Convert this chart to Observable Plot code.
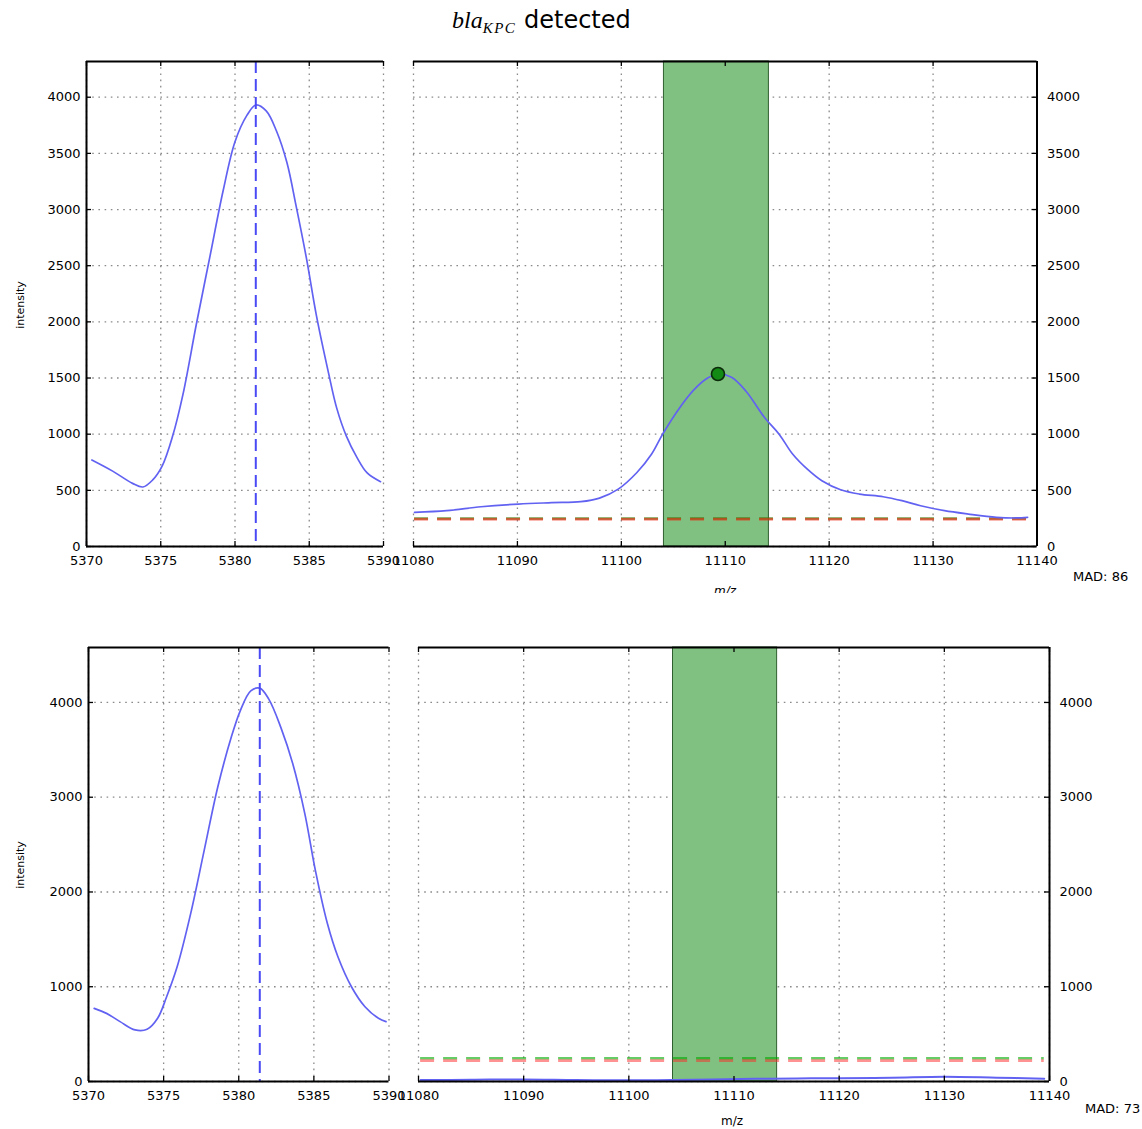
<!DOCTYPE html>
<html><head><meta charset="utf-8">
<script src="https://cdn.jsdelivr.net/npm/d3@7"></script>
<script src="https://cdn.jsdelivr.net/npm/@observablehq/plot@0.6"></script>
<style>
body{margin:0;background:#fff;}
#root{position:relative;width:1142px;height:1129px;overflow:hidden;font-family:"DejaVu Sans",sans-serif;background:#fff;}
.panel{position:absolute;}
#topfig{position:absolute;left:0;top:0;width:1142px;height:593px;overflow:hidden;}
#botfig{position:absolute;left:0;top:593px;width:1142px;height:536px;overflow:hidden;}
</style></head><body><div id="root"><div id="topfig"></div><div id="botfig"></div></div>
<script>
// ---------- data ----------
const topLeftMz = [5370.36,5371.76,5373.1,5373.8,5374.46,5375.1,5375.8,5376.5,5377.4,5378.3,5379.2,5380.0,5380.8,5381.4,5382.1,5382.8,5383.5,5384.1,5384.8,5385.5,5386.3,5386.85,5387.5,5388.2,5388.9,5389.8];
const topLeftInt = [770,671,562,530,593,718,983,1357,1981,2574,3167,3604,3838,3931,3878,3697,3416,3042,2574,2044,1544,1232,983,796,655,577];
const topLeftPeak = 5381.4;

const topRightMz = [11080.1,11083.2,11086.5,11090.1,11093.3,11096.1,11097.9,11099.7,11101.5,11102.9,11104.0,11105.6,11107.0,11108.3,11109.3,11110.6,11112.0,11113.8,11115.2,11116.5,11117.9,11119.3,11121.1,11122.9,11125.2,11127.0,11128.8,11131.1,11133.4,11136.1,11137.9,11139.1];
const topRightInt = [304,319,354,378,390,399,431,511,659,821,1004,1234,1397,1500,1536,1506,1382,1146,998,821,688,585,505,467,443,408,363,319,289,260,254,260];
const topPeakMz = 11109.3, topPeakInt = 1536;
const topGreenLevel = 249, topRedLevel = 244;
const topMAD = 86;

const botLeftMz = [5370.38,5371.2,5372.1,5373.1,5373.9,5374.6,5375.2,5375.9,5376.8,5377.7,5378.6,5379.5,5380.1,5380.8,5381.4,5382.0,5382.8,5383.6,5384.4,5385.1,5385.9,5386.6,5387.5,5388.4,5389.3,5389.8];
const botLeftInt = [772,719,632,544,551,667,895,1211,1772,2439,3105,3632,3912,4123,4151,4035,3737,3351,2825,2228,1667,1316,1000,789,667,632];
const botLeftPeak = 5381.4;

const botRightMz = [11080.2,11085,11090,11095,11100,11104,11108,11112,11116,11120,11125,11130,11135,11139.5];
const botRightInt = [15,18,22,15,12,15,22,28,32,35,40,50,40,30];
const botGreenLevel = 245, botRedLevel = 220;
const botMAD = 73;

const bandStart = 11104.1, bandEnd = 11114.2;
const botBandStart = 11104.2, botBandEnd = 11114.1;

const leftXTicks = [5370,5375,5380,5385,5390];
const rightXTicks = [11080,11090,11100,11110,11120,11130,11140];
const topYTicks = [0,500,1000,1500,2000,2500,3000,3500,4000];
const botYTicks = [0,1000,2000,3000,4000];

// ---------- styling ----------
const CURVE = "#6262f2", VDASH = "#4a4af5";
const FONT = "DejaVu Sans";

function panel(host, {side, xDomain, yDomain, xTicks, yTicks, fx0, fx1, fy0, fy1, extra, offsetTop}) {
  const mL = side === "left" ? 60 : 14, mR = side === "left" ? 14 : 60, mT = 10, mB = 34;
  const W = fx1 - fx0, H = fy1 - fy0;
  const marks = [
    Plot.ruleX(xTicks, {stroke: "#8a8a8a", strokeDasharray: "1.6,4.6", strokeWidth: 1.3}),
    Plot.ruleY(yTicks, {stroke: "#8a8a8a", strokeDasharray: "1.6,4.6", strokeWidth: 1.3}),
    ...extra,
    Plot.ruleY([yDomain[0]], {stroke: "black", strokeWidth: 2}),
    Plot.ruleY([yDomain[1]], {stroke: "black", strokeWidth: 2}),
    Plot.ruleX([side === "left" ? xDomain[0] : xDomain[1]], {stroke: "black", strokeWidth: 2}),
    Plot.ruleX(xTicks, {stroke: "black", strokeWidth: 1.3, insetTop: H - 5}),
    Plot.ruleX(xTicks, {stroke: "black", strokeWidth: 1.3, insetBottom: H - 5}),
    side === "left"
      ? Plot.ruleY(yTicks, {stroke: "black", strokeWidth: 1.3, insetRight: W - 5})
      : Plot.ruleY(yTicks, {stroke: "black", strokeWidth: 1.3, insetLeft: W - 5}),
    Plot.axisX({ticks: xTicks, tickSize: 0, tickPadding: 9, tickFormat: d => String(d), label: null, fontSize: 13}),
    Plot.axisY({anchor: side, ticks: yTicks, tickSize: 0, tickPadding: side === "left" ? 6 : 10, tickFormat: d => String(d), label: null, fontSize: 13})
  ];
  const svg = Plot.plot({
    width: W + mL + mR, height: H + mT + mB,
    marginLeft: mL, marginRight: mR, marginTop: mT, marginBottom: mB,
    x: {domain: xDomain, label: null},
    y: {domain: yDomain, label: null},
    style: {fontFamily: FONT, fontSize: "13px", color: "black", background: "transparent", overflow: "visible"},
    marks
  });
  svg.classList.add("panel");
  svg.style.left = (fx0 - mL) + "px";
  svg.style.top = (fy0 - mT - offsetTop) + "px";
  host.appendChild(svg);
}

const topHost = document.getElementById("topfig");
const botHost = document.getElementById("botfig");

const tl = topLeftMz.map((x, i) => ({x, y: topLeftInt[i]}));
const tr = topRightMz.map((x, i) => ({x, y: topRightInt[i]}));
const bl = botLeftMz.map((x, i) => ({x, y: botLeftInt[i]}));
const br = botRightMz.map((x, i) => ({x, y: botRightInt[i]}));

panel(topHost, {side: "left", xDomain: [5370, 5390], yDomain: [0, 4318], xTicks: leftXTicks, yTicks: topYTicks,
  fx0: 86, fx1: 383, fy0: 61, fy1: 546, offsetTop: 0,
  extra: [
    Plot.line(tl, {x: "x", y: "y", stroke: CURVE, strokeWidth: 1.7, curve: "catmull-rom"}),
    Plot.ruleX([topLeftPeak], {stroke: VDASH, strokeWidth: 2, strokeDasharray: "12,6"})
  ]});
panel(topHost, {side: "right", xDomain: [11080, 11140], yDomain: [0, 4318], xTicks: rightXTicks, yTicks: topYTicks,
  fx0: 413, fx1: 1036.5, fy0: 61, fy1: 546, offsetTop: 0,
  extra: [
    Plot.rect([{a: bandStart, b: bandEnd}], {x1: "a", x2: "b", fill: "#80c080", stroke: "#2f5f2f", strokeWidth: 1}),
    Plot.ruleY([topGreenLevel], {x1: topRightMz[0], x2: topRightMz[topRightMz.length - 1], stroke: "rgb(0,150,0)", strokeOpacity: 0.6, strokeWidth: 2.6, strokeDasharray: "14,9"}),
    Plot.ruleY([topRedLevel], {x1: topRightMz[0], x2: topRightMz[topRightMz.length - 1], stroke: "rgb(240,40,20)", strokeOpacity: 0.65, strokeWidth: 2.6, strokeDasharray: "14,9"}),
    Plot.line(tr, {x: "x", y: "y", stroke: CURVE, strokeWidth: 1.7, curve: "catmull-rom"}),
    Plot.dot([{x: topPeakMz, y: topPeakInt}], {x: "x", y: "y", r: 6.5, fill: "#138a13", stroke: "#0b2b0b", strokeWidth: 1.6})
  ]});
panel(botHost, {side: "left", xDomain: [5370, 5390], yDomain: [0, 4580], xTicks: leftXTicks, yTicks: botYTicks,
  fx0: 88, fx1: 388.5, fy0: 647, fy1: 1081, offsetTop: 593,
  extra: [
    Plot.line(bl, {x: "x", y: "y", stroke: CURVE, strokeWidth: 1.7, curve: "catmull-rom"}),
    Plot.ruleX([botLeftPeak], {stroke: VDASH, strokeWidth: 2, strokeDasharray: "12,6"})
  ]});
panel(botHost, {side: "right", xDomain: [11080, 11140], yDomain: [0, 4580], xTicks: rightXTicks, yTicks: botYTicks,
  fx0: 418, fx1: 1049, fy0: 647, fy1: 1081, offsetTop: 593,
  extra: [
    Plot.rect([{a: botBandStart, b: botBandEnd}], {x1: "a", x2: "b", fill: "#80c080", stroke: "#2f5f2f", strokeWidth: 1}),
    Plot.ruleY([botGreenLevel], {x1: botRightMz[0], x2: 11139.5, stroke: "rgb(0,170,0)", strokeOpacity: 0.6, strokeWidth: 2.6, strokeDasharray: "14,9"}),
    Plot.ruleY([botRedLevel], {x1: botRightMz[0], x2: 11139.5, stroke: "rgb(255,40,40)", strokeOpacity: 0.5, strokeWidth: 2.6, strokeDasharray: "14,9"}),
    Plot.line(br, {x: "x", y: "y", stroke: CURVE, strokeWidth: 2, curve: "catmull-rom"})
  ]});

function addText(host, html, css) {
  const d = document.createElement("div");
  d.style.position = "absolute";
  d.style.whiteSpace = "nowrap";
  Object.assign(d.style, css);
  d.innerHTML = html;
  host.appendChild(d);
  return d;
}
addText(topHost, '<span style="font-family:\'Liberation Serif\',serif;font-style:italic;font-size:24px;">bla<sub style="font-size:15px;vertical-align:-5px;letter-spacing:1.5px;">KPC</sub></span><span style="font-family:\'DejaVu Sans\';font-size:24px;"> detected</span>',
  {left: "452px", top: "5px", lineHeight: "30px"});
addText(topHost, "intensity", {left: "20px", top: "305px", fontSize: "11px", transform: "translate(-50%,-50%) rotate(-90deg)"});
addText(botHost, "intensity", {left: "20px", top: (865 - 593) + "px", fontSize: "11px", transform: "translate(-50%,-50%) rotate(-90deg)"});
addText(topHost, "m/z", {left: "725px", top: "584px", fontSize: "12px", transform: "translateX(-50%)", fontStyle: "italic"});
addText(botHost, "m/z", {left: "732px", top: (1114 - 593) + "px", fontSize: "12px", transform: "translateX(-50%)"});
addText(topHost, "MAD: " + topMAD, {left: "1073px", top: "569px", fontSize: "13px"});
addText(botHost, "MAD: " + botMAD, {left: "1085px", top: (1101 - 593) + "px", fontSize: "13px"});
</script></body></html>
